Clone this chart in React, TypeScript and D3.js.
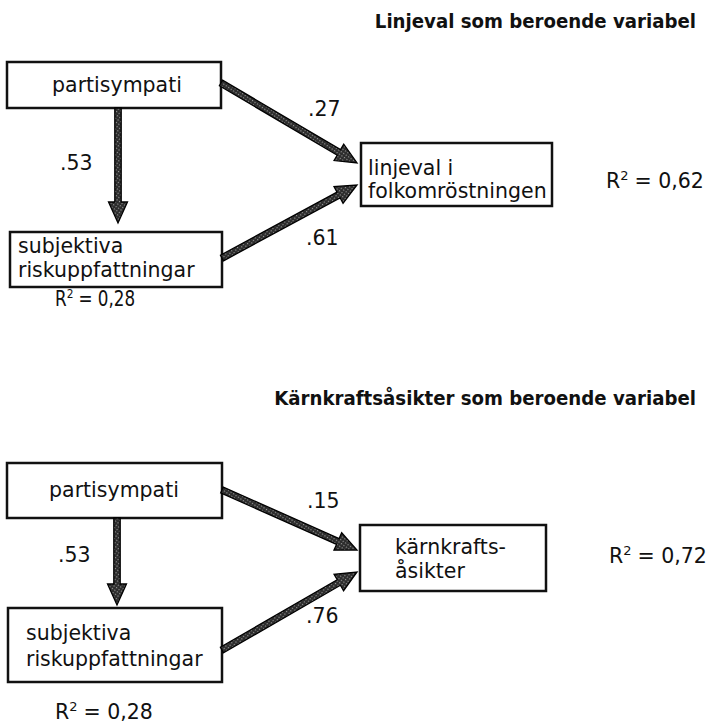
import React from "react";
import * as d3 from "d3";

// ---- data ----
const panelTitles = ["Linjeval som beroende variabel", "Kärnkraftsåsikter som beroende variabel"];
const sourceLabel = ["partisympati"];
const mediatorLabel = ["subjektiva", "riskuppfattningar"];
const targetLabels = [["linjeval i", "folkomröstningen"], ["kärnkrafts-", "åsikter"]];
const coefPS = [".53", ".53"];
const coefPT = [".27", ".15"];
const coefST = [".61", ".76"];
const r2Target = ["0,62", "0,72"];
const r2Mediator = ["0,28", "0,28"];

// ---- layout ----
type Box = { x: number; y: number; w: number; h: number };
const layout = [
  {
    titleY: 28,
    P: { x: 7, y: 62, w: 214, h: 46 } as Box,
    S: { x: 10, y: 232, w: 212, h: 55 } as Box,
    T: { x: 361, y: 143, w: 191, h: 63 } as Box,
    pText: { x: 117, y: 92 },
    sText: { x: 18, y: 253, dy: 24 },
    tText: { x: 368, y: 175, dy: 23 },
    vArrow: [[118, 108], [118, 223]],
    ptArrow: [[221, 83], [357, 163]],
    stArrow: [[222, 258], [357, 185]],
    cPS: { x: 60, y: 170 },
    cPT: { x: 308, y: 116 },
    cST: { x: 306, y: 245 },
    r2T: { x: 606, y: 188, sx: 1 },
    r2S: { x: 55, y: 306, sx: 0.82 },
  },
  {
    titleY: 405,
    P: { x: 7, y: 463, w: 215, h: 55 } as Box,
    S: { x: 8, y: 608, w: 214, h: 74 } as Box,
    T: { x: 360, y: 525, w: 186, h: 66 } as Box,
    pText: { x: 114, y: 497 },
    sText: { x: 26, y: 640, dy: 26 },
    tText: { x: 395, y: 554, dy: 24 },
    vArrow: [[117, 518], [117, 605]],
    ptArrow: [[222, 490], [357, 550]],
    stArrow: [[222, 650], [357, 572]],
    cPS: { x: 58, y: 562 },
    cPT: { x: 307, y: 508 },
    cST: { x: 306, y: 623 },
    r2T: { x: 609, y: 563, sx: 1 },
    r2S: { x: 55, y: 719, sx: 1 },
  },
];

const FONT = "'DejaVu Sans', Verdana, sans-serif";
const TFONT = "'DejaVu Sans Condensed', 'DejaVu Sans', sans-serif";
const FS = 20.5;

function arrowPath(a: number[], b: number[]) {
  const [x1, y1] = a;
  const [x2, y2] = b;
  const dx = x2 - x1, dy = y2 - y1;
  const L = Math.hypot(dx, dy);
  const ux = dx / L, uy = dy / L;
  const nx = -uy, ny = ux;
  const sw = 3.2, hw = 9.5, hl = 21;
  const bx = x2 - ux * hl, by = y2 - uy * hl;
  const p = d3.path();
  p.moveTo(x1 + nx * sw, y1 + ny * sw);
  p.lineTo(bx + nx * sw, by + ny * sw);
  p.lineTo(bx + nx * hw, by + ny * hw);
  p.lineTo(x2, y2);
  p.lineTo(bx - nx * hw, by - ny * hw);
  p.lineTo(bx - nx * sw, by - ny * sw);
  p.lineTo(x1 - nx * sw, y1 - ny * sw);
  p.closePath();
  return p.toString();
}

function R2({ x, y, v, sx }: { x: number; y: number; v: string; sx: number }) {
  return (
    <g transform={`translate(${x},${y}) scale(${sx},1)`}>
      <text x={0} y={0} fontFamily={FONT} fontSize={20.5} fill="#111">
        R<tspan dy={-8} fontSize={13}>2</tspan>
        <tspan dy={8} dx={6}>{"= " + v}</tspan>
      </text>
    </g>
  );
}

export default function App() {
  return (
    <svg width={713} height={726} style={{ position: "absolute", left: 0, top: 0, background: "#fff" }}>
      <defs>
        <pattern id="ht" width="3" height="3" patternUnits="userSpaceOnUse" patternTransform="rotate(35)">
          <rect width="3" height="3" fill="#2a2a2a" />
          <rect width="1.2" height="1.2" fill="#9a9a9a" />
        </pattern>
      </defs>
      {layout.map((L, i) => (
        <g key={i}>
          <text x={696} y={L.titleY} textAnchor="end" fontFamily={TFONT} fontStretch="condensed" fontWeight="bold" fontSize={20.2}
            fill="#111">
            {panelTitles[i]}
          </text>
          {[L.P, L.S, L.T].map((b, j) => (
            <rect key={j} x={b.x} y={b.y} width={b.w} height={b.h} fill="none" stroke="#111" strokeWidth={2.5} />
          ))}
          <text x={L.pText.x} y={L.pText.y} textAnchor="middle" fontFamily={FONT} fontSize={FS} fill="#111">
            {sourceLabel[0]}
          </text>
          {mediatorLabel.map((t, j) => (
            <text key={j} x={L.sText.x} y={L.sText.y + j * L.sText.dy} fontFamily={FONT} fontSize={FS} fill="#111">{t}</text>
          ))}
          {targetLabels[i].map((t, j) => (
            <text key={j} x={L.tText.x} y={L.tText.y + j * L.tText.dy} fontFamily={FONT} fontSize={FS} fill="#111">{t}</text>
          ))}
          {[L.vArrow, L.ptArrow, L.stArrow].map((a, j) => (
            <path key={j} d={arrowPath(a[0], a[1])} fill="url(#ht)" stroke="#000" strokeWidth={1.3} strokeLinejoin="miter" />
          ))}
          <text x={L.cPS.x} y={L.cPS.y} fontFamily={FONT} fontSize={FS} fill="#111">{coefPS[i]}</text>
          <text x={L.cPT.x} y={L.cPT.y} fontFamily={FONT} fontSize={FS} fill="#111">{coefPT[i]}</text>
          <text x={L.cST.x} y={L.cST.y} fontFamily={FONT} fontSize={FS} fill="#111">{coefST[i]}</text>
          <R2 x={L.r2T.x} y={L.r2T.y} v={r2Target[i]} sx={L.r2T.sx} />
          <R2 x={L.r2S.x} y={L.r2S.y} v={r2Mediator[i]} sx={L.r2S.sx} />
        </g>
      ))}
    </svg>
  );
}
